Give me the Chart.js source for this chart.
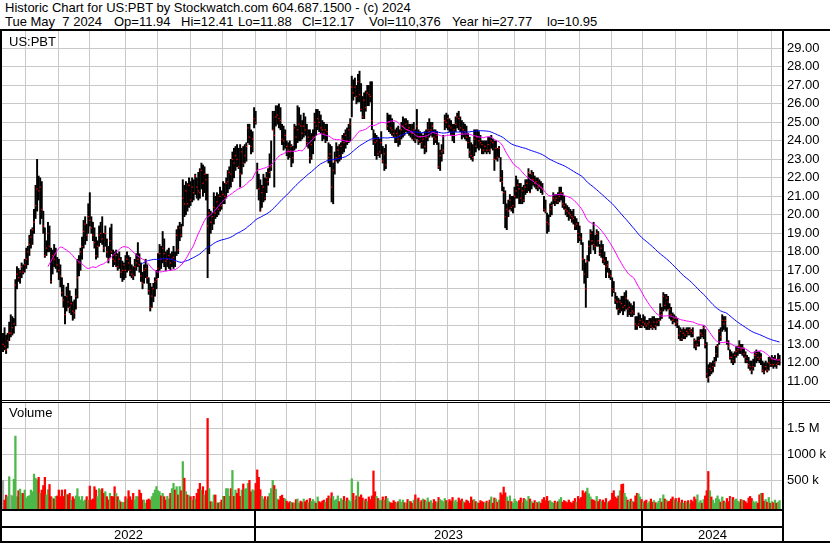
<!DOCTYPE html>
<html><head><meta charset="utf-8">
<script src="https://cdn.jsdelivr.net/npm/chart.js@4.4.1/dist/chart.umd.min.js"></script>
<style>
html,body{margin:0;padding:0;background:#fff;}
#wrap{position:relative;width:830px;height:543px;overflow:hidden;background:#fff;font-family:"Liberation Sans",Arial,sans-serif;color:#000;}
.txt{position:absolute;font-size:13px;line-height:14px;white-space:pre;}
.ln{position:absolute;background:#000;}
canvas{position:absolute;left:0;}
</style></head><body>
<div id="wrap">
<canvas id="pc" width="830" height="369" style="top:31px"></canvas>
<canvas id="vc" width="830" height="140" style="top:403px"></canvas>
<div class="txt" style="left:5px;top:1px">Historic Chart for US:PBT by Stockwatch.com 604.687.1500 - (c) 2024</div>
<div class="txt" style="left:5px;top:15px">Tue May  7 2024</div>
<div class="txt" style="left:114px;top:15px">Op=11.94</div>
<div class="txt" style="left:181px;top:15px">Hi=12.41</div>
<div class="txt" style="left:238px;top:15px">Lo=11.88</div>
<div class="txt" style="left:302px;top:15px">Cl=12.17</div>
<div class="txt" style="left:369px;top:15px">Vol=110,376</div>
<div class="txt" style="left:452px;top:15px">Year hi=27.77</div>
<div class="txt" style="left:547px;top:15px">lo=10.95</div>
<div class="txt" style="left:9px;top:35px">US:PBT</div>
<div class="txt" style="left:9px;top:406px">Volume</div>
<div class="ln" style="left:0;top:29px;width:830px;height:2px"></div>
<div class="ln" style="left:0;top:29px;width:2px;height:514px"></div>
<div class="ln" style="left:782px;top:29px;width:2px;height:514px"></div>
<div class="ln" style="left:0;top:400px;width:830px;height:1px"></div>
<div class="ln" style="left:0;top:402px;width:830px;height:1px"></div>
</div>
<script>
// ---- data ----
const LOW = [
12.6,12.7,12.5,12.8,13.2,13.4,13.5,13.6,14.0,16.0,
16.4,16.3,16.6,16.8,16.9,17.1,17.3,17.8,18.2,18.4,
19.0,19.8,20.2,20.8,19.5,19.8,19.0,17.7,17.8,18.0,
18.0,16.3,16.8,17.2,17.1,16.9,16.5,16.1,15.6,15.0,
14.1,14.8,15.0,14.7,14.6,14.3,14.4,14.9,15.5,16.7,
17.0,17.6,18.2,18.4,18.6,19.0,19.4,19.0,18.6,18.2,
17.6,17.7,18.3,18.5,18.4,18.0,18.3,17.7,17.4,17.7,
17.9,17.2,17.3,17.2,17.0,17.1,16.6,16.4,16.5,16.6,
16.9,17.0,16.7,16.6,16.5,16.7,17.0,17.2,16.9,16.4,
16.0,16.3,16.6,16.3,15.7,14.8,15.0,15.3,15.6,16.0,
16.6,17.0,17.1,17.4,17.2,17.0,17.2,17.1,17.0,17.2,
17.1,17.2,17.8,17.9,18.6,18.8,19.4,19.9,20.0,20.2,
20.4,20.5,20.7,20.8,21.1,20.9,20.8,20.9,21.4,21.0,
21.2,20.8,16.6,17.9,19.0,19.2,19.5,19.8,19.9,20.0,
20.2,20.3,20.6,20.6,20.9,21.2,21.4,21.5,21.8,22.0,
22.4,22.6,22.5,21.5,22.2,22.6,22.8,22.9,23.9,23.8,
23.3,23.4,24.7,24.9,21.4,20.8,20.2,20.4,20.7,20.8,
21.2,21.6,22.0,22.4,24.6,21.5,24.8,24.9,24.7,24.6,
23.8,23.5,23.6,23.2,23.0,23.1,22.6,22.8,23.5,23.6,
23.9,24.0,24.0,24.1,24.2,24.3,23.7,23.6,22.8,23.0,
23.3,24.0,24.3,24.6,24.5,24.4,24.0,24.1,23.9,24.0,
22.8,22.6,20.7,20.6,22.2,22.9,22.8,22.9,23.0,23.3,
23.4,23.6,23.8,23.9,24.0,25.3,26.2,26.4,26.0,26.1,
26.1,25.6,25.2,25.2,25.6,25.9,25.9,26.1,24.6,23.8,
23.2,23.0,23.2,23.1,23.3,22.8,22.4,22.5,24.6,24.5,
24.4,24.3,24.2,23.9,23.9,23.7,23.8,24.1,24.2,24.3,
24.5,24.4,24.3,24.2,24.1,24.0,23.9,24.1,23.8,23.9,
23.6,23.6,23.3,23.4,24.0,24.2,24.3,24.2,23.8,23.9,
23.8,22.5,22.4,22.9,23.3,24.6,24.7,24.6,24.5,24.3,
24.0,23.9,24.5,24.7,24.6,24.5,24.1,24.2,24.1,24.0,
23.6,23.1,23.0,22.9,23.2,23.4,23.6,23.5,23.6,23.3,
23.3,23.4,23.3,23.4,23.3,23.6,23.5,22.4,23.0,22.9,
23.1,21.8,21.3,20.6,19.3,19.2,19.9,20.3,20.2,20.1,
20.4,20.9,20.9,20.6,20.6,20.6,20.7,21.1,21.2,21.3,
21.2,21.4,21.6,21.5,21.4,21.3,21.4,21.2,21.1,20.2,
20.1,19.0,19.1,19.9,20.0,20.6,20.5,20.6,20.6,20.7,
20.8,20.4,20.3,20.0,19.9,19.7,19.8,19.6,19.5,19.2,
19.2,18.5,18.6,18.4,17.0,16.3,15.0,16.6,17.5,17.9,
18.4,18.1,17.9,18.3,18.3,17.8,17.7,17.4,17.3,16.6,
16.9,16.6,16.5,15.6,15.8,15.2,14.9,14.6,14.7,14.8,
14.6,14.8,14.9,14.5,14.6,14.5,14.5,14.6,13.8,13.8,
14.0,13.9,13.9,14.0,13.9,13.8,13.8,13.8,13.9,13.8,
13.9,13.8,14.0,14.0,14.3,14.4,14.8,14.9,14.8,14.9,
14.4,14.3,14.1,14.2,14.0,13.9,13.3,13.2,13.2,13.3,
13.3,13.4,13.5,13.5,13.4,13.4,12.8,12.7,12.9,12.9,
13.3,13.4,13.3,12.8,11.2,10.95,11.3,11.4,11.5,11.8,
12.1,12.3,13.0,13.2,13.7,13.8,13.7,13.0,12.7,12.2,
12.0,11.9,12.0,12.3,12.4,12.5,12.5,12.4,12.3,12.0,
12.0,11.7,11.6,11.4,11.6,11.8,12.0,12.1,12.0,11.9,
11.5,11.4,11.6,11.5,11.6,11.8,11.8,11.7,11.8,11.7,
11.9,11.88];
const HIGH = [
13.6,13.9,13.5,13.6,14.2,14.6,14.5,14.4,16.5,17.2,
17.1,17.0,17.4,17.3,17.6,18.2,18.3,18.9,19.2,19.3,
20.3,21.6,23.0,22.1,22.0,21.8,20.2,19.3,18.6,19.6,
19.4,18.2,18.1,18.4,18.2,17.7,17.6,17.3,16.6,16.2,
15.6,16.1,16.3,15.9,15.6,15.3,15.4,16.0,17.6,17.8,
18.2,18.8,19.7,19.9,19.5,20.6,21.2,19.9,19.6,19.3,
18.8,18.6,19.4,19.6,19.9,19.0,19.4,18.7,18.3,19.3,
19.5,18.1,18.0,18.1,17.9,18.0,17.7,17.5,17.4,17.8,
18.0,17.8,17.7,17.3,17.2,17.6,17.9,18.5,17.9,17.4,
16.9,17.3,17.6,17.3,16.6,16.3,16.1,16.3,16.6,17.0,
17.9,18.4,18.3,19.1,18.7,18.0,18.1,18.2,17.9,18.0,
18.3,18.0,19.2,19.4,19.6,19.5,21.9,21.6,21.8,21.7,
22.0,21.8,22.0,21.9,22.2,22.0,22.3,22.5,22.8,22.7,
22.6,22.2,22.2,20.3,20.2,20.1,21.2,21.0,21.2,21.1,
21.5,21.3,21.8,21.7,22.0,22.4,22.6,23.0,23.4,23.6,
23.7,23.8,23.6,23.8,23.6,23.7,23.8,23.9,24.9,24.9,
24.6,24.5,25.8,25.6,22.8,22.2,21.9,21.6,22.2,22.0,
22.3,22.5,23.3,24.0,25.6,25.6,25.9,25.9,26.0,25.8,
24.9,24.8,24.6,24.0,23.9,24.0,23.8,23.7,24.9,24.8,
25.9,25.8,25.4,25.1,25.5,25.3,24.9,24.6,24.6,24.4,
24.6,25.5,25.7,25.7,25.6,25.4,25.1,25.0,24.9,24.9,
23.9,23.8,23.7,22.8,23.4,23.9,23.7,23.8,23.9,24.3,
24.4,24.6,24.7,24.9,25.2,27.5,27.3,27.4,27.0,27.6,
27.77,27.1,26.4,26.6,26.7,27.0,27.0,27.2,27.2,24.6,
24.4,24.3,24.2,24.1,24.5,23.7,23.6,23.8,25.5,25.4,
25.4,25.2,25.0,24.6,24.7,24.8,24.6,25.0,25.3,25.2,
25.2,25.1,24.9,24.9,24.9,25.0,24.6,25.7,24.6,24.5,
24.4,24.3,24.5,24.6,25.0,25.2,25.0,25.0,24.6,24.6,
24.5,23.9,23.5,23.8,24.3,25.4,25.5,25.4,25.2,25.1,
24.9,24.9,25.3,25.5,25.6,25.3,25.1,25.0,24.9,24.8,
24.4,24.2,23.9,23.8,24.6,24.6,24.6,24.5,24.3,24.0,
24.0,24.0,24.0,24.2,24.2,24.3,24.1,24.0,24.0,23.6,
23.7,23.1,22.4,21.5,21.3,20.6,20.8,21.1,21.0,21.0,
21.5,22.1,21.9,21.7,21.7,21.5,21.6,21.9,21.9,22.5,
22.2,22.4,22.3,22.1,22.0,22.0,21.9,21.8,21.7,21.0,
20.8,20.1,20.0,20.6,20.7,21.2,21.1,21.1,21.2,21.5,
21.5,21.2,21.0,20.6,20.5,20.4,20.3,20.2,20.3,19.9,
19.8,19.6,19.4,19.0,18.5,17.6,17.4,17.8,18.6,19.2,
19.1,19.6,18.9,19.2,19.1,18.4,18.6,18.4,18.0,17.7,
17.5,17.1,17.0,16.6,16.4,15.8,15.6,15.5,15.4,15.6,
15.6,15.8,15.9,15.4,15.3,15.2,15.1,15.3,14.5,14.5,
14.7,14.6,14.4,14.6,14.5,14.3,14.3,14.4,14.4,14.5,
14.5,14.4,14.4,14.4,15.2,15.0,15.8,15.7,15.7,15.6,
15.2,15.0,14.7,14.6,14.5,14.4,14.0,13.9,13.8,13.9,
13.8,13.9,13.9,13.9,13.8,13.9,13.3,13.2,13.4,13.4,
13.8,13.8,14.0,13.8,13.1,11.9,12.0,12.0,12.1,12.3,
12.9,13.0,13.8,13.9,14.6,14.5,14.5,13.9,13.2,12.7,
12.6,12.5,12.6,12.9,12.9,13.2,13.0,13.0,12.8,12.6,
12.4,12.3,12.1,12.1,12.2,12.6,12.7,12.6,12.6,12.5,
12.1,12.0,12.1,12.0,12.3,12.3,12.4,12.3,12.4,12.2,
12.5,12.41];
const CLOSE = [
13.0,12.9,12.7,13.2,13.6,13.6,13.9,14.1,16.2,16.8,
16.6,16.9,17.2,16.9,17.3,17.6,18.0,18.4,18.8,19.2,
19.6,20.5,21.4,21.3,21.5,20.3,19.4,17.8,18.2,19.0,
18.3,16.4,17.8,17.6,17.9,17.3,17.0,16.7,15.8,15.4,
14.6,15.6,15.3,15.0,15.2,14.8,14.7,15.6,16.6,17.4,
18.0,18.3,19.1,19.5,18.9,19.9,19.7,19.3,18.9,18.5,
17.8,18.3,18.9,19.0,18.7,18.2,19.0,18.0,17.6,18.6,
18.0,17.6,17.5,17.8,17.2,17.6,16.9,17.0,17.3,17.0,
17.6,17.4,17.0,16.8,16.7,17.2,17.4,17.6,17.3,16.7,
16.3,17.0,17.1,16.6,15.9,15.0,15.6,16.0,16.4,16.5,
17.1,17.9,17.6,18.2,17.9,17.5,17.6,17.8,17.4,17.6,
17.7,17.5,18.9,18.1,19.3,18.9,20.9,20.6,21.3,20.6,
21.6,20.8,21.5,21.2,22.1,21.5,21.3,21.2,22.4,21.7,
22.2,21.9,19.4,20.1,19.6,19.9,20.4,20.1,20.7,20.3,
21.0,20.5,21.1,21.0,21.7,21.8,22.3,22.2,23.0,22.8,
23.2,23.0,22.6,22.2,23.4,22.8,23.2,23.7,24.7,24.2,
23.7,24.1,25.2,25.0,22.4,21.4,20.2,21.2,21.5,20.9,
22.0,21.8,22.3,22.6,24.6,24.3,25.3,25.4,25.2,25.1,
24.1,24.0,24.3,23.7,23.5,23.4,23.7,23.1,24.7,24.2,
24.6,24.9,24.8,24.4,24.8,24.6,23.9,24.2,23.1,23.8,
24.2,25.0,24.8,25.2,25.0,24.7,24.6,24.4,24.6,24.5,
23.1,23.3,21.5,22.4,22.9,23.1,23.5,23.2,23.7,24.1,
23.9,24.3,24.0,24.6,24.9,26.9,26.6,26.9,26.4,27.2,
26.5,25.7,25.3,26.2,25.8,26.6,26.5,26.4,25.1,24.1,
23.9,24.0,23.3,23.4,23.9,22.9,23.3,22.7,24.8,25.0,
24.7,24.6,24.4,24.2,24.4,24.1,24.3,24.6,24.8,24.7,
24.9,24.6,24.7,24.5,24.4,24.6,24.1,24.8,24.0,24.2,
23.9,24.1,23.7,24.2,24.6,24.5,24.6,24.8,24.2,24.1,
24.3,22.6,23.2,23.4,23.5,25.1,25.0,25.2,24.8,24.7,
24.3,24.6,24.9,25.3,25.2,24.7,24.4,24.6,24.5,24.2,
23.9,23.4,23.2,23.1,24.1,23.7,24.2,24.0,23.9,23.8,
23.5,23.7,23.5,23.8,23.5,24.0,23.9,23.0,23.6,23.1,
23.6,22.0,21.8,21.2,19.9,20.3,20.2,20.8,20.4,20.5,
21.0,21.3,21.6,21.4,20.9,21.3,20.8,21.5,21.7,22.3,
21.2,22.2,21.9,21.7,21.8,21.5,21.6,21.5,21.4,20.3,
20.2,19.6,19.5,20.3,20.5,20.9,20.8,20.9,20.7,21.0,
21.2,20.6,20.5,20.3,20.2,20.1,20.0,19.9,19.8,19.4,
19.5,19.0,18.8,18.7,17.6,16.8,16.0,17.5,18.3,19.0,
18.6,18.4,18.3,19.0,18.6,17.9,18.2,17.6,17.5,17.2,
17.3,16.8,16.7,16.0,15.9,15.4,15.3,14.9,15.3,15.2,
15.0,15.1,15.5,14.9,15.0,14.7,14.8,14.7,14.1,14.0,
14.1,14.3,14.0,14.2,14.1,14.0,14.1,14.2,14.0,13.9,
14.2,14.0,14.2,14.3,14.8,14.6,15.6,15.1,15.5,15.3,
14.9,14.6,14.3,14.4,14.1,14.2,13.5,13.7,13.3,13.6,
13.5,13.7,13.6,13.8,13.7,13.6,13.2,12.9,13.0,13.2,
13.6,13.5,13.9,13.0,11.4,11.2,11.7,11.6,11.8,12.0,
12.5,12.9,13.7,13.4,14.3,14.1,14.3,13.1,12.9,12.3,
12.3,12.1,12.4,12.6,12.7,12.9,12.7,12.8,12.5,12.3,
12.1,11.9,11.8,11.6,11.8,12.4,12.5,12.3,12.2,12.3,
11.6,11.5,11.8,11.6,12.0,11.9,12.2,11.9,12.2,11.9,
12.0,12.17];
// volume in thousands of shares
const VOLUME_K = [
500,120,215,186,570,215,200,520,1350,186,
300,330,250,250,313,160,192,205,313,280,
620,540,510,557,250,313,400,557,218,320,
420,186,160,141,192,199,313,186,313,190,
320,230,220,250,121,185,141,200,340,185,
121,190,100,121,185,121,390,121,141,377,
313,185,340,313,340,250,280,185,121,250,
192,185,377,250,185,121,83,77,77,185,
141,300,185,121,250,121,190,185,313,250,
121,121,60,121,141,121,186,250,313,380,
300,280,200,250,186,121,192,141,250,340,
442,313,377,218,380,300,860,540,282,218,
205,186,121,192,141,250,330,442,313,377,
218,300,1690,340,90,80,218,218,65,65,
77,121,192,192,340,340,192,340,690,192,
313,250,340,192,313,430,330,340,440,500,
280,320,300,440,700,557,320,192,141,186,
128,186,250,340,500,400,330,141,121,192,
215,154,141,100,65,90,77,65,65,128,
141,60,100,80,140,90,120,70,150,100,
130,90,60,180,90,70,100,120,80,150,
200,150,260,190,110,130,200,90,150,120,
190,100,160,120,90,530,250,120,200,470,
180,220,160,110,140,90,180,130,200,680,
280,190,150,120,110,180,120,190,150,90,
70,60,110,80,60,90,130,80,120,70,
60,130,100,90,60,120,220,130,160,80,
110,140,120,90,160,80,110,60,130,90,
70,170,130,110,90,150,110,80,130,100,
170,90,120,80,160,110,140,90,70,120,
100,60,180,120,130,90,70,60,110,90,
80,60,100,80,120,180,60,160,140,80,
120,260,220,370,260,180,100,200,90,60,
140,100,80,110,160,70,150,130,100,190,
140,90,60,110,80,70,90,60,130,170,
110,190,100,110,80,60,100,70,90,130,
170,80,110,90,70,120,80,60,100,150,
80,190,140,170,300,250,280,350,240,180,
130,120,100,190,90,130,90,120,80,150,
70,90,120,250,300,180,150,200,300,420,
430,250,180,120,90,140,100,80,200,250,
240,180,130,70,100,120,60,90,140,80,
110,70,60,100,150,80,220,140,120,90,
100,140,180,120,150,90,160,70,120,60,
100,80,110,50,120,90,180,130,220,70,
110,60,130,200,300,670,300,180,120,60,
150,200,130,80,180,100,70,150,90,190,
160,170,120,140,100,80,130,120,110,90,
60,160,190,150,100,70,90,60,220,250,
250,100,130,80,170,60,90,70,120,60,
80,110.376];
// index of first trading day of each month shown (Jun 2022 ... May 2024)
const MONTH_START = [16,37,57,80,101,122,143,164,184,203,226,245,267,288,308,331,351,373,394,414,435,455,475,497];
const YEAR_START = [164,414];
const YEARS = ['2022','2023','2024'];
const PRICE_TICKS = [11,12,13,14,15,16,17,18,19,20,21,22,23,24,25,26,27,28,29];
const VOL_TICKS = [500000,1000000,1500000];
const VOL_LABELS = ['500 k','1000 k','1.5 M'];
const MA_FAST = 30, MA_SLOW = 90;

// ---- derived ----
function sma(arr, n){ return arr.map((_, i) => { if (i < n-1) return null; let s=0; for (let k=i-n+1;k<=i;k++) s+=arr[k]; return s/n; }); }
const maF = sma(CLOSE, MA_FAST), maS = sma(CLOSE, MA_SLOW);
const volColors = CLOSE.map((c,i) => i===0 || c===CLOSE[i-1] ? '#a8a8a8' : (c > CLOSE[i-1] ? '#4cb848' : '#ff0000'));

const XMIN = -0.65, XMAX = 503.2;
const GRID = '#c8c8c8';
const FONT = {family:'"Liberation Sans", Arial, sans-serif', size:13};
const gridTicks = s => { s.ticks = MONTH_START.map(v => ({value: v - 1.2})); };
const noPadX = h => s => { s.height = h; s.paddingLeft = 0; s.paddingRight = 0; };
const noPadY = s => { s.width = 47; s.paddingTop = 0; s.paddingBottom = 0; };

function xScale(h){
  return {type:'linear', min:XMIN, max:XMAX, offset:false, afterBuildTicks:gridTicks, afterFit:noPadX(h),
          ticks:{display:false}, grid:{color:GRID, lineWidth:1, drawTicks:false, offset:false}, border:{display:false}};
}

new Chart(document.getElementById('pc'), {
  type:'bar',
  data:{datasets:[
    {type:'line', data: maF.map((v,i)=>({x:i,y:v})), borderColor:'#ff00ff', borderWidth:1, pointRadius:0, order:1},
    {type:'line', data: maS.map((v,i)=>({x:i,y:v})), borderColor:'#0000ff', borderWidth:1, pointRadius:0, order:2},
    {type:'scatter', data: CLOSE.map((v,i)=>({x:i,y:v})), pointStyle:'rect', pointRadius:0.9, pointBorderWidth:0, backgroundColor:'#ff0000', borderWidth:0, order:3},
    {type:'bar', data: LOW.map((v,i)=>({x:i,y:[v,HIGH[i]]})), backgroundColor:'#000', barThickness:1.3, order:4}
  ]},
  options:{
    responsive:false, animation:false, devicePixelRatio:1,
    layout:{autoPadding:false, padding:{left:2,right:0,top:0,bottom:0}},
    plugins:{legend:{display:false}, tooltip:{enabled:false}},
    scales:{
      x:xScale(0),
      y:{position:'right', min:9.99, max:29.94,
         afterBuildTicks:s=>{s.ticks = PRICE_TICKS.map(v=>({value:v}));},
         afterFit:noPadY,
         ticks:{callback:v=>Number(v).toFixed(2), color:'#000', font:FONT, padding:4},
         grid:{color:GRID, lineWidth:1, drawTicks:false}, border:{display:false}}
    }
  }
});

const VMIN = -52000, VMAX = 1986500;
const bottomRows = {
  id:'bottomRows',
  afterDraw(chart){
    const {ctx, chartArea:a, scales:{x}} = chart;
    const H = chart.height;
    ctx.save();
    ctx.fillStyle = '#000';
    ctx.fillRect(0, a.bottom, a.right, 2);
    ctx.fillRect(0, a.bottom + 17, a.right, 2);
    ctx.fillRect(0, H - 2, chart.width, 2);
    const bx = YEAR_START.map(i => Math.round(x.getPixelForValue(i - 1.7)));
    bx.forEach(px => ctx.fillRect(px - 1, a.bottom, 2, H - a.bottom));
    const edges = [a.left].concat(bx, [a.right]);
    ctx.font = '13px "Liberation Sans", Arial, sans-serif';
    ctx.textAlign = 'center'; ctx.textBaseline = 'middle';
    YEARS.forEach((y,k) => ctx.fillText(y, (edges[k] + edges[k+1]) / 2, a.bottom + 26));
    ctx.restore();
  }
};
new Chart(document.getElementById('vc'), {
  type:'bar',
  data:{datasets:[
    {data: VOLUME_K.map((v,i)=>({x:i,y:v*1000})), backgroundColor: volColors, barThickness:1.6, base:VMIN}
  ]},
  options:{
    responsive:false, animation:false, devicePixelRatio:1,
    layout:{autoPadding:false, padding:{left:2,right:0,top:0,bottom:0}},
    plugins:{legend:{display:false}, tooltip:{enabled:false}},
    scales:{
      x:xScale(34),
      y:{position:'right', min:VMIN, max:VMAX,
         afterBuildTicks:s=>{s.ticks = VOL_TICKS.map(v=>({value:v}));},
         afterFit:noPadY,
         ticks:{callback:(v,i)=>VOL_LABELS[i], color:'#000', font:FONT, padding:4},
         grid:{color:GRID, lineWidth:1, drawTicks:false}, border:{display:false}}
    }
  },
  plugins:[bottomRows]
});
</script>
</body></html>
